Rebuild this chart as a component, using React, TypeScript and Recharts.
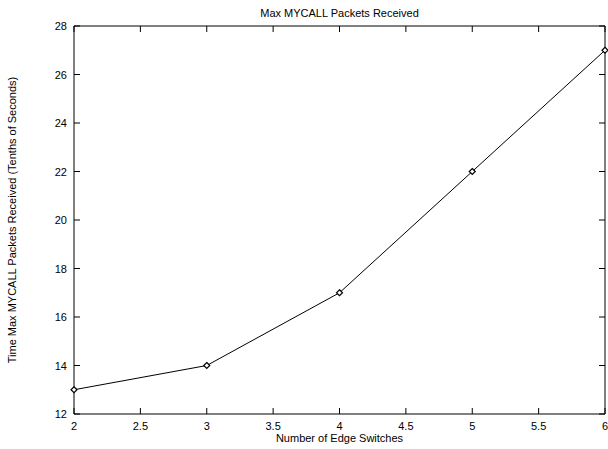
import { LineChart, Line, XAxis, YAxis, Label } from "recharts"

const edgeSwitches = [2, 3, 4, 5, 6]
const maxPacketTime = [13, 14, 17, 22, 27]
const xTicks = [2, 2.5, 3, 3.5, 4, 4.5, 5, 5.5, 6]
const yTicks = [12, 14, 16, 18, 20, 22, 24, 26, 28]

const data = edgeSwitches.map((x, i) => ({ x, y: maxPacketTime[i] }))

const font = "'Liberation Sans', Arial, Helvetica, sans-serif"
const TICK = 6

const Diamond = (props: any) => {
  const { cx, cy } = props
  if (cx == null || cy == null) return null
  const r = 3
  return (
    <polygon
      points={`${cx},${cy - r} ${cx + r},${cy} ${cx},${cy + r} ${cx - r},${cy}`}
      fill="#fff"
      stroke="#000"
      strokeWidth={1.2}
    />
  )
}

// ticks point inward, gnuplot style
const BottomTick = (p: any) => (
  <g>
    <path d={`M${p.x},${p.y}V${p.y - TICK}`} stroke="#000" strokeWidth={1} fill="none" />
    <text x={p.x} y={p.y + 16} textAnchor="middle" fontSize={11} fontFamily={font} fill="#000">
      {p.payload.value}
    </text>
  </g>
)
const TopTick = (p: any) => (
  <path d={`M${p.x},${p.y}V${p.y + TICK}`} stroke="#000" strokeWidth={1} fill="none" />
)
const LeftTick = (p: any) => (
  <g>
    <path d={`M${p.x},${p.y}H${p.x + TICK}`} stroke="#000" strokeWidth={1} fill="none" />
    <text x={p.x - 7} y={p.y + 4} textAnchor="end" fontSize={11} fontFamily={font} fill="#000">
      {p.payload.value}
    </text>
  </g>
)
const RightTick = (p: any) => (
  <path d={`M${p.x},${p.y}H${p.x - TICK}`} stroke="#000" strokeWidth={1} fill="none" />
)

export default function App() {
  return (
    <div style={{ position: "fixed", top: 0, left: 0, width: 608, height: 449, background: "#fff" }}>
      <LineChart width={608} height={449} data={data} margin={{ top: 25, right: 2, bottom: 0, left: 0 }}>
        <XAxis
          dataKey="x"
          type="number"
          domain={[2, 6]}
          ticks={xTicks}
          height={35}
          stroke="#000"
          tickSize={0}
          tickMargin={0}
          tickLine={false}
          tick={BottomTick}
          interval={0}
        >
          <Label value="Number of Edge Switches" position="insideBottom" offset={7} style={{ fill: "#000", fontSize: 11, fontFamily: font }} />
        </XAxis>
        <XAxis
          xAxisId="top"
          dataKey="x"
          orientation="top"
          type="number"
          domain={[2, 6]}
          ticks={xTicks}
          height={1}
          stroke="#000"
          tickSize={0}
          tickMargin={0}
          tickLine={false}
          tick={TopTick}
          interval={0}
        />
        <YAxis
          type="number"
          domain={[12, 28]}
          ticks={yTicks}
          width={74}
          stroke="#000"
          tickSize={0}
          tickMargin={0}
          tickLine={false}
          tick={LeftTick}
          interval={0}
        >
          <Label
            value="Time Max MYCALL Packets Received (Tenths of Seconds)"
            angle={-90}
            position="insideLeft"
            offset={12}
            style={{ textAnchor: "middle", fill: "#000", fontSize: 11, fontFamily: font }}
          />
        </YAxis>
        <YAxis
          yAxisId="right"
          orientation="right"
          type="number"
          domain={[12, 28]}
          ticks={yTicks}
          width={1}
          stroke="#000"
          tickSize={0}
          tickMargin={0}
          tickLine={false}
          tick={RightTick}
          interval={0}
        />
        <Line
          xAxisId="top"
          yAxisId="right"
          dataKey="y"
          stroke="none"
          dot={false}
          activeDot={false}
          isAnimationActive={false}
        />
        <Line
          dataKey="y"
          stroke="#000"
          strokeWidth={1}
          dot={<Diamond />}
          isAnimationActive={false}
        />
      </LineChart>
      <div
        style={{
          position: "absolute",
          top: 7,
          left: 74,
          width: 531,
          textAlign: "center",
          fontFamily: font,
          fontSize: 11,
          lineHeight: "12px",
        }}
      >
        Max MYCALL Packets Received
      </div>
    </div>
  )
}
